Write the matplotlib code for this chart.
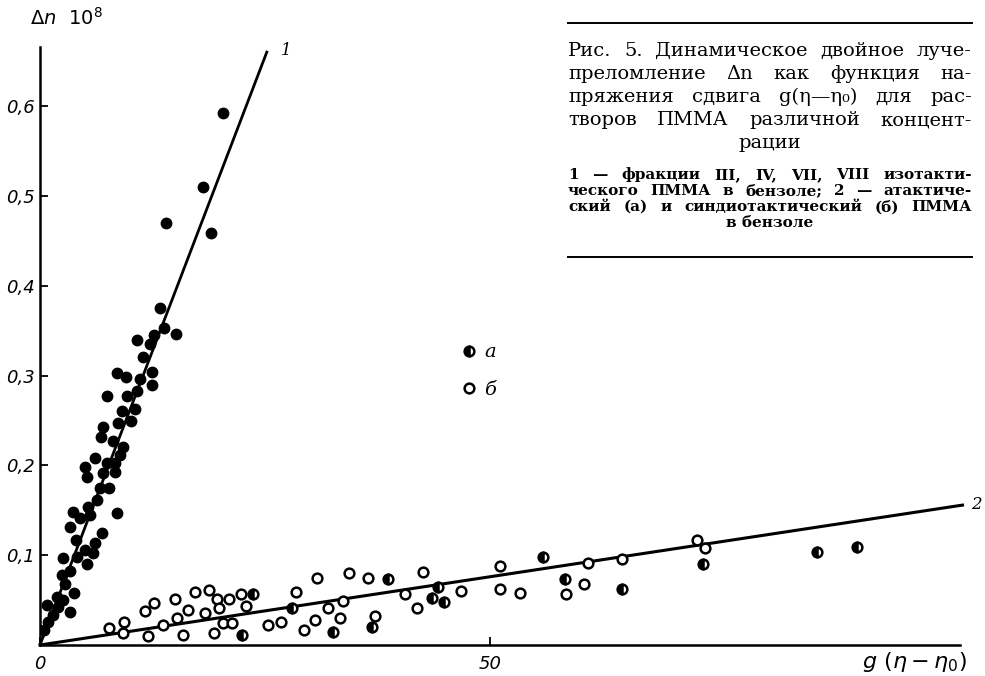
import matplotlib
matplotlib.use("Agg")
import matplotlib.pyplot as plt
from matplotlib.lines import Line2D

# ----- data: Δn·10^8 vs g(η-η0) -----
# 1 - isotactic PMMA fractions III, IV, VII, VIII in benzene (filled)
iso_x = [20.3, 18.1, 19.0, 14.0, 13.3, 13.8, 15.1, 10.8, 12.7, 12.2, 11.4, 12.4, 8.6,
         9.6, 11.1, 12.4, 7.4, 9.7, 10.8, 9.1, 10.6, 10.1, 8.7, 7.0, 6.8, 8.1, 9.2,
         6.1, 8.9, 7.4, 8.3, 5.0, 7.0, 8.3, 5.2, 6.7, 7.7, 6.3, 8.6, 5.3, 3.7, 4.4,
         3.3, 5.6, 6.9, 4.0, 6.1, 5.0, 5.9, 4.1, 2.6, 5.2, 3.3, 2.4, 2.8, 3.8, 1.9,
         2.6, 0.8, 2.0, 3.3, 1.4, 0.9, 0.4]
iso_y = [0.592, 0.510, 0.459, 0.470, 0.375, 0.353, 0.346, 0.340, 0.345, 0.335, 0.321,
         0.304, 0.303, 0.298, 0.296, 0.290, 0.277, 0.277, 0.283, 0.261, 0.263, 0.249,
         0.247, 0.243, 0.232, 0.227, 0.220, 0.208, 0.212, 0.203, 0.203, 0.198, 0.192,
         0.193, 0.187, 0.175, 0.175, 0.161, 0.147, 0.154, 0.148, 0.141, 0.131, 0.145,
         0.125, 0.117, 0.114, 0.106, 0.102, 0.098, 0.097, 0.090, 0.082, 0.078, 0.068,
         0.058, 0.053, 0.050, 0.045, 0.042, 0.037, 0.033, 0.026, 0.017]

# 2a - atactic PMMA (half filled)
ata_x = [23.7, 22.4, 28.0, 32.6, 36.9, 38.7, 44.2, 43.6, 44.9, 55.9, 58.3, 64.7,
         73.7, 86.3, 90.8]
ata_y = [0.057, 0.011, 0.041, 0.014, 0.020, 0.073, 0.065, 0.052, 0.048, 0.098,
         0.073, 0.062, 0.090, 0.104, 0.109]

# 2б - syndiotactic PMMA (open)
syn_x = [7.7, 9.3, 9.2, 11.7, 12.7, 12.0, 13.7, 15.0, 15.2, 16.4, 15.9, 17.2, 18.3,
         18.8, 19.3, 19.7, 19.9, 21.0, 22.3, 20.3, 21.3, 22.9, 25.3, 26.8, 28.4, 29.3,
         30.6, 30.8, 32.0, 33.3, 33.7, 34.3, 36.4, 37.2, 40.6, 41.9, 42.6, 46.8, 51.1,
         51.1, 53.3, 58.4, 60.4, 60.9, 64.7, 73.0, 73.9]
syn_y = [0.019, 0.026, 0.013, 0.038, 0.047, 0.010, 0.022, 0.051, 0.030, 0.039, 0.011,
         0.059, 0.036, 0.061, 0.013, 0.051, 0.041, 0.051, 0.057, 0.024, 0.024, 0.043,
         0.022, 0.026, 0.059, 0.017, 0.028, 0.075, 0.041, 0.030, 0.049, 0.080, 0.075,
         0.032, 0.057, 0.041, 0.081, 0.060, 0.088, 0.062, 0.058, 0.057, 0.068, 0.091,
         0.096, 0.117, 0.108]

# fitted straight lines through the origin
slope_1 = 0.0262
slope_2 = 0.00152
line1_end = 25.2
line2_end = 102.5

y_ticks = [0.1, 0.2, 0.3, 0.4, 0.5, 0.6]
y_tick_labels = ["0,1", "0,2", "0,3", "0,4", "0,5", "0,6"]
x_ticks = [0, 50]
x_tick_labels = ["0", "50"]

W, H = 985, 676
fig = plt.figure(figsize=(W / 100, H / 100), dpi=100)
ax = fig.add_axes([40 / W, 31 / H, 920 / W, 598 / H])
ax.set_xlim(0, 920 / 9)
ax.set_ylim(0, 598 / 898)

for side in ["top", "right"]:
    ax.spines[side].set_visible(False)
for side in ["left", "bottom"]:
    ax.spines[side].set_linewidth(1.8)

ax.plot([0, line1_end], [0, slope_1 * line1_end], color="black", lw=2.0, zorder=2)
ax.plot([0, line2_end], [0, slope_2 * line2_end], color="black", lw=2.2, zorder=2,
        clip_on=False)

ax.plot(iso_x, iso_y, "o", color="black", ms=7.5, zorder=3)
h_a, = ax.plot(ata_x, ata_y, "o", fillstyle="left", mfc="black", mfcalt="white",
               mec="black", mew=1.8, ms=7, zorder=3)
h_b, = ax.plot(syn_x, syn_y, "o", mfc="white", mec="black", mew=1.8, ms=7, zorder=3)

ax.legend([h_a, h_b], ["а", "б"], loc="center", bbox_to_anchor=(0.478, 0.458),
          frameon=False, handlelength=0.6, handletextpad=0.5, labelspacing=1.0,
          prop={"family": ["DejaVu Serif"], "style": "italic", "size": 14})

ax.set_yticks(y_ticks)
ax.set_yticklabels(y_tick_labels)
ax.set_xticks(x_ticks)
ax.set_xticklabels(x_tick_labels)
ax.tick_params(direction="in", length=6, width=1.3, labelsize=13)
ax.tick_params(axis="y", pad=4)
ax.tick_params(axis="x", pad=7)
for lab in ax.get_xticklabels() + ax.get_yticklabels():
    lab.set_fontstyle("italic")

# curve numbers
ax.text(26.8, 0.662, "1", fontsize=12, style="italic", family="DejaVu Serif",
        va="center", ha="left")
ax.text(103.5, 0.157, "2", fontsize=12, style="italic", family="DejaVu Serif",
        va="center", ha="left")

# axis titles
fig.text(30 / W, 1 - 18 / H, r"$\Delta n\ \ 10^{8}$", fontsize=14, va="center")
fig.text(862 / W, 1 - 662 / H, r"$g\ (\eta - \eta_0)$", fontsize=16, va="center")

# ----- caption block -----
x0, x1 = 568 / W, 972 / W
fig.add_artist(Line2D([x0, x1], [1 - 23 / H] * 2, color="black", lw=1.4))
fig.add_artist(Line2D([x0, x1], [1 - 257 / H] * 2, color="black", lw=1.4))

serif = ["DejaVu Serif"]
renderer = fig.canvas.get_renderer()


def justify(line, ypix, **kw):
    words = line.split(" ")
    texts = [fig.text(0, 1 - ypix / H, w, va="center", family=serif, **kw) for w in words]
    widths = [t.get_window_extent(renderer).width / W for t in texts]
    gap = (x1 - x0 - sum(widths)) / (len(words) - 1)
    x = x0
    for t, w in zip(texts, widths):
        t.set_x(x)
        x += w + gap


def centered(line, ypix, **kw):
    fig.text((x0 + x1) / 2, 1 - ypix / H, line, va="center", ha="center",
             family=serif, **kw)


main = dict(fontsize=14)
justify("Рис. 5. Динамическое двойное луче-", 51, **main)
justify("преломление Δn как функция на-", 74, **main)
justify("пряжения сдвига g(η—η₀) для рас-", 97, **main)
justify("творов ПММА различной концент-", 120, **main)
centered("рации", 143, **main)

small = dict(fontsize=11, fontweight="bold")
justify("1 — фракции III, IV, VII, VIII изотакти-", 175, **small)
justify("ческого ПММА в бензоле; 2 — атактиче-", 191, **small)
justify("ский (а) и синдиотактический (б) ПММА", 207, **small)
centered("в бензоле", 223, **small)

fig.savefig("out.png", dpi=100, facecolor="white")
